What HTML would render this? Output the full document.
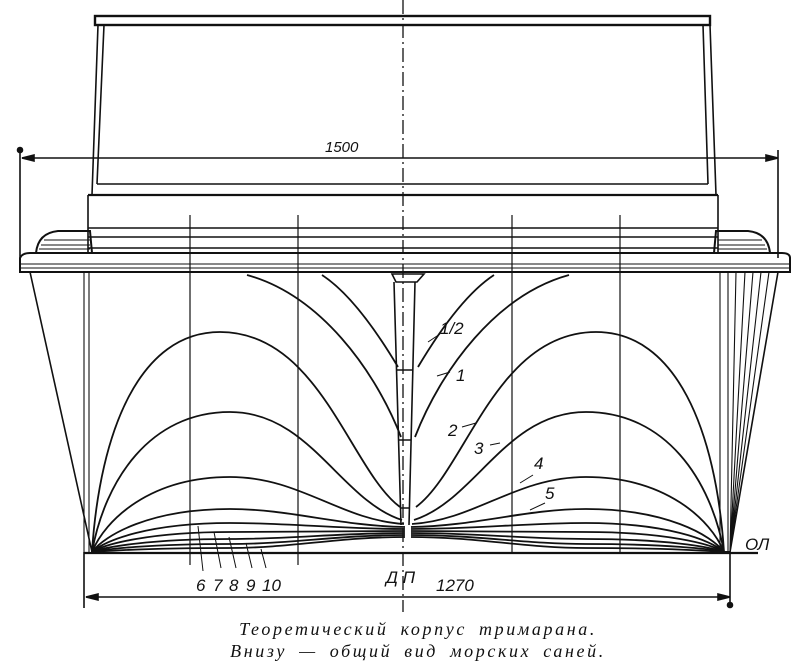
<!DOCTYPE html>
<html><head><meta charset="utf-8"><style>
html,body{margin:0;padding:0;background:#fff;}
svg{display:block}
text{font-family:"Liberation Sans",sans-serif;font-style:italic;fill:#111}
.cap{font-family:"Liberation Serif",serif;}
</style></head><body>
<svg width="800" height="665" viewBox="0 0 800 665" xmlns="http://www.w3.org/2000/svg">
<g stroke="#111" fill="none" stroke-width="1.6">
<rect x="95" y="16" width="615" height="9" stroke-width="2.4"/>
<path d="M98 25 L92 195 M710 25 L716 195 M104 25 L97 184 M703 25 L708 184"/>
<path d="M97 184 L708 184" />
<path d="M88 195 L718 195" stroke-width="2.2"/>
<path d="M88 195 L88 253 M718 195 L718 253 M88 228 L718 228 M88 237 L718 237 M88 248 L718 248"/>
<path d="M22 158 L778 158 M20 150 L20 258 M778 150 L778 258"/>
<path d="M22 158 l12 -3 v6 z M778 158 l-12 -3 v6 z" fill="#111"/>
<circle cx="20" cy="150" r="2.5" fill="#111"/>
<path d="M36 253 Q38 233 58 231 L90 231 L92 253" stroke-width="2"/>
<path d="M770 253 Q768 233 748 231 L716 231 L714 253" stroke-width="2"/>
<path d="M44 240 H90 M41 245 H90 M39 249 H90 M718 240 H762 M718 245 H765 M718 249 H767" stroke-width="1"/>
<path d="M20 258 Q22 253 30 253 H782 Q790 253 790 258 V272 H20 Z" stroke-width="2"/>
<path d="M20 264 H790 M20 268 H790" stroke-width="1"/>
<path d="M30 272 L92 552 M778 272 L730 552" stroke-width="1.6"/>
<path d="M84 272 V552 M89 272 V552" stroke-width="1.1"/>
<path d="M720 272 V552 M728 272 V552" stroke-width="1.1"/>
<path d="M736 272 L730 552 M745 272 L730 552 M753 272 L730 552 M761 272 L730 552 M769 272 L730 552" stroke-width="1.1"/>
<path d="M190 215 V565 M298 215 V565 M512 215 V552 M620 215 V552" stroke-width="1.2"/>
<path d="M403 0 V612" stroke-width="1.3" stroke-dasharray="14 4 2 4"/>
<path d="M392 274 L424 274 L417 282 L396 282 Z"/>
<path d="M394 282 L401 525 M415 282 L409 525 M397 370 H413 M399 440 H411 M401 508 H410"/>
<path d="M84 553 H758" stroke-width="2.2"/>
<g id="L" stroke-width="1.8">
<path d="M398 367 C370 320 345 290 322 275"/>
<path d="M401 437 C375 370 320 295 247 275"/>
<path d="M400 507 C350 470 320 332 220 332 C140 332 100 430 92 552"/>
<path d="M402 520 C340 500 310 412 230 412 C150 412 105 480 92 552"/>
<path d="M404 524 C340 520 300 477 230 477 C150 477 105 520 92 552"/>
<path d="M405 527 C340 526 290 509 230 509 C150 509 105 535 92 552"/>
<path d="M405 529 C340 529 290 523 230 523 C150 523 105 540 92 552"/>
<path d="M405 531 C340 531 290 532 230 532 C150 532 105 544 92 552"/>
<path d="M405 533 C340 533 290 539 230 539 C150 539 105 547 92 552"/>
<path d="M405 535 C340 535 290 544 230 544 C150 544 105 549 92 552"/>
<path d="M405 537 C340 537 290 548 230 548 C150 548 105 551 92 552"/>
</g>
<use href="#L" transform="translate(816,0) scale(-1,1)"/>
<path d="M724 552 L730 552" stroke-width="2"/>
<path d="M428 342 L440 334 M437 376 L450 372 M462 427 L476 423 M490 445 L500 443 M520 483 L533 475 M530 510 L545 503" stroke-width="1"/>
<path d="M203 571 L198 526 M221 568 L214 532 M236 568 L229 537 M252 568 L246 543 M266 568 L261 549" stroke-width="1"/>
<path d="M86 597 H730 M84 552 V608 M730 552 V608"/>
<path d="M86 597 l12 -3 v6 z M730 597 l-12 -3 v6 z" fill="#111"/>
<circle cx="730" cy="605" r="2.5" fill="#111"/>
</g>
<text x="325" y="152" font-size="15">1500</text>
<text x="440" y="334" font-size="17">1/2</text>
<text x="456" y="381" font-size="17">1</text>
<text x="448" y="436" font-size="17">2</text>
<text x="474" y="454" font-size="17">3</text>
<text x="534" y="469" font-size="17">4</text>
<text x="545" y="499" font-size="17">5</text>
<text x="196" y="591" font-size="17">6</text>
<text x="213" y="591" font-size="17">7</text>
<text x="229" y="591" font-size="17">8</text>
<text x="246" y="591" font-size="17">9</text>
<text x="262" y="591" font-size="17">10</text>
<text x="386" y="583" font-size="17">Д П</text>
<text x="436" y="591" font-size="17">1270</text>
<text x="745" y="550" font-size="17">ОЛ</text>
<text class="cap" x="418" y="635" font-size="18" text-anchor="middle" letter-spacing="2.6" word-spacing="5">Теоретический корпус тримарана.</text>
<text class="cap" x="418" y="657" font-size="18" text-anchor="middle" letter-spacing="2.6" word-spacing="5">Внизу — общий вид морских саней.</text>
</svg>
</body></html>
